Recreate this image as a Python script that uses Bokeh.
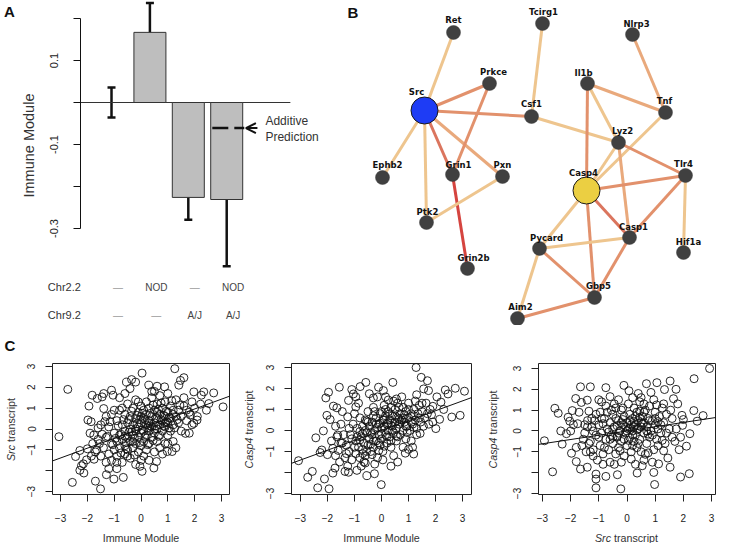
import math
from bokeh.plotting import figure
from bokeh.layouts import column, row
from bokeh.models import (Range1d, LinearAxis, FixedTicker, Whisker, TeeHead, Arrow,
                          OpenHead, Label, ColumnDataSource)
from bokeh.embed import file_html
from bokeh.resources import INLINE
from bokeh.core.properties import value

FONT = "Liberation Sans"
TXT = "#222222"

# ---------------- Panel A data ----------------
A_VALUES = [0.0, 0.167, -0.226, -0.231]
A_UPPER = [0.036, 0.237, -0.179, -0.071]
A_LOWER = [-0.036, 0.098, -0.279, -0.390]
A_CHR22 = ["—", "NOD", "—", "NOD"]
A_CHR92 = ["—", "—", "A/J", "A/J"]
A_ROWS = ["Chr2.2", "Chr9.2"]
A_ADDITIVE = -0.061
A_TICKS = [-0.3, -0.2, -0.1, 0.0, 0.1, 0.2]
A_TICK_LABELS = ["-0.3", "", "-0.1", "", "0.1", ""]

# ---------------- Panel B data ----------------
NODES = ["Ret", "Tcirg1", "Nlrp3", "Prkce", "Il1b", "Src", "Csf1", "Tnf", "Lyz2", "Ephb2",
         "Grin1", "Pxn", "Casp4", "Tlr4", "Ptk2", "Casp1", "Hif1a", "Pycard", "Grin2b", "Gbp5", "Aim2"]
NODE_X = [453, 542, 632, 489, 587, 424, 531, 665, 618, 382,
          452, 502, 586, 685, 426, 629, 683, 539, 467, 594, 517]
NODE_Y = [32, 23, 34, 83, 83, 110, 116, 112, 142, 177,
          174, 176, 190, 175, 222, 237, 252, 248, 268, 297, 318]
NODE_KIND = [0, 0, 0, 0, 0, 1, 0, 0, 0, 0, 0, 0, 2, 0, 0, 0, 0, 0, 0, 0, 0]
LABEL_DX = [0, 1, 4, 4, -4, -8, 0, -1, 4, 5, 6, 0, -3, -2, 1, 4, 5, 7, 6, 4, 3]
LABEL_DY = [-13, -12, -11, -12, -11, -19, -13, -12, -12, -13, -10, -12, -18, -12, -11, -11, -11, -11, -11, -12, -12]
EDGE_SRC = ["Ret", "Tcirg1", "Nlrp3", "Src", "Src", "Src", "Src", "Src", "Src", "Prkce",
            "Grin1", "Pxn", "Csf1", "Il1b", "Il1b", "Il1b", "Tnf", "Lyz2", "Lyz2", "Lyz2",
            "Casp4", "Casp4", "Casp4", "Casp4", "Tlr4", "Tlr4", "Pycard", "Pycard", "Pycard", "Casp1", "Aim2"]
EDGE_DST = ["Src", "Csf1", "Tnf", "Prkce", "Csf1", "Ephb2", "Ptk2", "Grin1", "Pxn", "Grin1",
            "Grin2b", "Ptk2", "Lyz2", "Tnf", "Lyz2", "Casp4", "Casp4", "Casp4", "Tlr4", "Casp1",
            "Tlr4", "Casp1", "Pycard", "Gbp5", "Casp1", "Hif1a", "Casp1", "Gbp5", "Aim2", "Gbp5", "Gbp5"]
EDGE_LEVEL = [1, 1, 2, 3, 3, 1, 1, 4, 2, 3,
              5, 1, 1, 2, 1, 3, 1, 1, 3, 2,
              3, 4, 1, 3, 3, 1, 1, 3, 1, 3, 3]

# ---------------- Panel C data ----------------
IM1_X = [-3.06, -2.73, -2.56, -2.28, -2.44, -2.28, -2.15, -2.22, -2.13, -2.03, -1.94, -1.98, -1.86, -1.9, -1.76,
         -1.82, -1.63, -1.45, -1.39, -1.1, -1.04, -1.39, -1.7, -1.51, -1.29, -1.01, -0.66, -0.54, -0.35, -0.41,
         -0.2, 0.04, 0.29, 0.6, 0.88, 1.26, 1.41, 1.47, 1.6, 1.97, 2.34, 2.25, 2.71, 3.06, 2.44, 2.22, 2.53,
         0.98, 1.16, 1.66, 1.84, 1.97, 2.09, 0.48, 0.58, 0.04, -0.04,
         -1.65, -1.75, -1.3, -1.55, -1.85, -2.0, -1.6, -1.45, -1.35,
         -1.4, -1.3, -1.2, -1.2, -1.1, -1.1, -1.0, -1.0, -0.9, -0.9, -0.9, -0.8, -0.8, -0.8, -0.7, -0.7, -0.7,
         -0.6, -0.6, -0.6, -0.6, -0.5, -0.5, -0.5, -0.5, -0.4, -0.4, -0.4, -0.4, -0.3, -0.3, -0.3, -0.3,
         -0.2, -0.2, -0.2, -0.2, -0.1, -0.1, -0.1, -0.1, 0.0, 0.0, 0.0, 0.0, 0.0, 0.1, 0.1, 0.1, 0.1,
         0.2, 0.2, 0.2, 0.2, 0.2, 0.3, 0.3, 0.3, 0.3, 0.4, 0.4, 0.4, 0.4, 0.5, 0.5, 0.5, 0.5, 0.6, 0.6, 0.6, 0.6,
         0.7, 0.7, 0.7, 0.7, 0.8, 0.8, 0.8, 0.9, 0.9, 0.9, 0.9, 1.0, 1.0, 1.0, 1.1, 1.1, 1.1, 1.2, 1.2, 1.2,
         1.3, 1.3, 1.4, 1.4, 1.5, 1.5, 1.6, 1.7, 1.8,
         -1.6, -1.5, -1.7, -1.8, -1.3, -1.2, -1.0, -0.9, -0.8, -0.6, -0.2, 0.3, 0.5, 0.8, 1.0, 1.3, 1.6, 1.9,
         2.0, 2.1, -0.05, 0.15, 0.35, -0.35, 0.55, -0.55, 0.65, 0.75, -0.15, 0.25, 0.45, 0.85, -0.45, 1.05,
         -0.75, -0.25, 0.05, 0.95,
         -0.95, -0.85, -0.75, -0.65, -0.55, -0.45, -0.35, -0.25, -0.15, -0.05, 0.05, 0.15, 0.25, 0.35, 0.45,
         0.55, 0.65, 0.75, 0.85, 0.95, 1.05, 1.15, 1.25, 1.35, 1.45, -1.05, -1.15, -1.25, -0.6, -0.3, 0.0, 0.3,
         0.6, 0.9, 1.2, -0.9, -0.5, 0.1, 0.7, 1.0, -1.5, -1.1, -0.7, -0.1, 0.4, 1.7, 1.9, 1.8, -0.2, 0.5]
SRC1_Y = [-0.37, 1.9, -2.56, -1.98, -1.32, -1.03, -1.67, -1.76, -2.11, -1.48, 1.1, 0.43, 0.35, -0.2, -0.29,
          1.62, 1.46, 1.54, 1.7, 1.86, 1.62, 0.98, -2.5, -2.87, -2.19, -2.4, -2.32, 2.25, 2.37, 1.94,
          2.25, 2.68, 2.1, 2.05, 2.02, 2.89, 2.1, 2.33, 2.46, 1.78, 1.78, 1.62, 1.73, 1.06, 0.9, 1.19, 1.22,
          -1.08, -1.08, -0.21, 0.67, 0.27, 0.43, -1.87, -1.56, -2.03, -1.79,
          -1.0, -1.45, -1.6, -0.7, -1.3, -0.95, 0.05, -0.25, 0.35,
          -0.9, -0.4, -1.2, 0.1, -0.7, -1.5, -0.2, -1.0, 0.4, -0.6, -1.3, -0.3, 0.9, -0.9, 0.2, -0.5, -1.6,
          -0.1, 0.7, -0.8, -1.2, 0.3, -0.4, 1.2, -1.0, 0.0, -0.6, 0.6, -1.4, 0.2, -0.3, 1.0, -0.9,
          -0.1, 0.5, -0.7, 1.4, 0.1, -0.4, 0.8, -1.1, 0.3, -0.2, 1.1, -0.8, -1.5, 0.5, -0.1, 0.9, -0.6,
          0.2, 0.7, -0.3, 1.3, -1.0, 0.4, -0.1, 1.0, -0.7, 0.6, 0.1, 1.5, -0.4, 0.3, 0.9, -0.2, -1.1, 0.5, 1.2, 0.0, -0.6,
          0.7, 0.2, 1.6, -0.3, 0.4, 1.0, -0.1, 0.6, 0.1, 1.3, -0.7, 0.8, 0.3, -0.3, 0.5, 1.1, -0.1, 0.2, 0.9, -0.6,
          0.6, 1.4, 0.3, 0.9, 0.6, -0.1, 1.1, 0.4, 0.8,
          -0.5, 0.2, -1.1, -0.7, 0.6, -1.9, 0.9, -1.9, 1.5, 1.7, -1.7, -1.5, 1.8, -1.2, 1.7, -0.9, 1.5, 0.2,
          1.0, 0.6, 0.45, -0.35, 0.75, -0.15, 0.15, -0.65, 0.95, 0.45, 0.25, 0.05, -0.55, 0.65, 0.45, 0.05,
          -0.25, -0.45, -0.05, 0.35,
          -0.45, 0.15, -1.15, 0.45, -0.95, -0.15, 0.85, -1.25, 0.65, -0.65, 0.75, 0.45, -0.75, 0.15, 1.15,
          0.55, -0.35, 1.25, 0.15, 0.85, 0.55, 1.35, 0.05, 0.45, 1.15, -0.75, 0.35, -0.35, -0.35, -0.6, 0.6, 0.3,
          0.8, 0.3, 0.7, -1.6, -1.3, -1.3, -0.9, -0.7, -1.3, 0.7, 1.0, 1.3, 1.8, 0.9, 1.3, -0.2, 0.0, 0.0]

IM2_X = [-3.07, -2.73, -2.56, -2.36, -2.27, -2.21, -2.43, -2.15, -2.06, -1.96, -2.02, -1.9, -1.94, -2.11, -1.8,
         -1.72, -1.78, -1.65, -1.56, -1.62, -1.1, -1.04, -1.22, -0.79, -0.58, -0.95, -1.35, -1.22, -0.91, -0.54,
         -0.26, -0.01, -0.11, 0.07, 0.42, 1.28, 1.47, 1.7, 1.56, 1.74, 2.36, 2.73, 3.07, 2.46, 2.91, 2.6, 2.01,
         2.15, 1.43, 1.15, 1.19, 0.88,
         -1.8, -1.7, -1.55, -1.45, -1.5, -1.35, -1.25, -1.85, -2.0, -1.6, 2.2, 2.05, 1.9, 2.3, 1.85, -0.3, -0.45,
         -0.15, 0.25, 0.45, 0.6, 0.35, -0.6, -0.75,
         -1.3, -1.2, -1.15, -1.1, -1.05, -0.95, -0.95, -0.9, -0.85, -0.8, -0.8, -0.75, -0.7, -0.7, -0.65, -0.6,
         -0.6, -0.55, -0.5, -0.5, -0.45, -0.45, -0.4, -0.35, -0.35, -0.3, -0.3, -0.25, -0.2, -0.2, -0.15, -0.1,
         -0.1, -0.05, -0.05, 0.0, 0.0, 0.05, 0.05, 0.1, 0.1, 0.15, 0.15, 0.2, 0.2, 0.25, 0.25, 0.3, 0.3, 0.35,
         0.35, 0.4, 0.4, 0.45, 0.5, 0.5, 0.55, 0.55, 0.6, 0.6, 0.65, 0.7, 0.7, 0.75, 0.8, 0.8, 0.85, 0.9, 0.9,
         0.95, 1.0, 1.0, 1.05, 1.1, 1.15, 1.2, 1.25, 1.3, 1.35, 1.4, 1.45, 1.5, 1.6, 1.65, 1.75, 1.8,
         -1.4, -1.25, -1.0, -0.85, -0.65, -0.25, 0.15, 0.45, 0.75, 1.1, 1.3, -0.55, -0.15, 0.35, 0.65, -0.4,
         0.1, -0.7, 0.85, 0.25, -0.3, 0.55, -0.1, 1.2, -0.8, 0.0,
         -0.9, -0.8, -0.7, -0.6, -0.5, -0.4, -0.3, -0.2, -0.1, 0.0, 0.1, 0.2, 0.3, 0.4, 0.5, 0.6, 0.7, 0.8, 0.9,
         1.0, 1.1, 1.2, 1.3, 1.4, 1.5, -1.0, -1.1, -1.2, -1.3, -1.5, -0.55, -0.25, 0.05, 0.35, 0.65, 0.95, 1.25,
         1.55, 1.7, 1.9, -1.65, -1.7, -1.45, -0.95, 0.15, 0.55, 0.8, 1.0, -0.35, -0.05]
CASP4_2Y = [-1.44, -2.23, -1.95, -2.73, -1.05, -0.93, -0.35, -0.02, 1.55, 1.82, 0.72, 0.52, -2.78, -2.31, -2.03,
            -1.79, 1.16, 1.08, 2.06, -0.22, 1.95, 1.74, 1.43, 2.09, 2.29, 1.12, -1.95, -1.99, -1.9, -2.15,
            -2.06, -2.58, 2.06, 1.9, 2.29, 3.0, 2.53, 2.37, 1.98, 1.9, 1.93, 2.01, 1.87, 1.74, 0.72, 0.64, 0.09,
            0.53, -0.14, -0.8, -1.12, -1.08,
            -0.85, -1.2, -1.5, -0.6, 0.3, -1.3, 0.65, -0.5, -1.15, -0.95, 1.35, 1.6, 1.15, 1.0, 0.75, 1.55, 1.75,
            1.6, 1.45, 1.4, -1.5, -1.7, -1.55, -1.7,
            -0.7, -1.0, -0.2, -1.4, 0.3, -0.5, -1.1, 0.1, -0.8, 0.6, -1.3, -0.3, 0.2, -0.9, -0.6, 0.5,
            -1.2, -0.1, 0.9, -0.7, 0.2, -0.4, -1.0, 0.4, -0.2, 1.1, -0.8, 0.0, 0.6, -0.5, -1.3, 0.3,
            -0.2, 0.8, -0.7, 0.1, -0.4, 0.5, -1.0, 0.2, 1.2, -0.2, 0.7, -0.6, 0.3, 0.0, 0.9, -0.3, 0.5, 1.1,
            -0.8, 0.2, 0.7, -0.1, 0.4, 1.0, -0.5, 0.1, 0.6, 1.3, 0.3, -0.2, 0.8, 0.5, 1.1, 0.0, 0.4, 0.9, -0.4,
            0.2, 0.6, 1.3, 0.0, 0.8, 0.3, 1.0, 0.5, -0.2, 0.8, 1.2, 0.4, 0.9, 0.6, 1.3, 0.3, 1.0,
            -0.2, -1.7, 0.8, 1.3, -1.5, -1.6, 1.6, -1.2, 1.6, -0.5, 1.7, 0.45, 0.15, 0.25, 0.55, -0.65,
            -0.75, -0.15, 0.75, 0.35, 0.7, -0.25, -0.95, 0.15, -0.45, 0.9,
            -0.3, -0.05, -1.1, 0.0, 0.4, -0.1, -0.5, 0.3, -0.6, -0.15, 0.5, -0.3, 0.8, 0.0, 0.7, -0.3, 0.4, 0.6,
            0.2, 1.0, 0.4, 0.7, 0.1, 0.6, 1.3, -0.8, -0.4, 0.1, -1.1, -0.6, -1.0, 0.9, -1.4, -0.5, 1.1, -0.1, 1.4,
            0.2, 0.8, 0.4, -0.3, 0.2, 0.9, 1.6, 1.0, 1.5, -0.8, -0.9, -1.15, 0.35]

SRC3_X = [-2.93, -2.64, -2.56, -2.44, -2.35, -2.3, -2.09, -1.94, -2.03, -2.0, -2.15, -1.97, -1.8, -1.82, -1.65,
          -1.3, -1.62, -1.41, -1.8, -1.65, -1.41, -1.1, -1.1, -1.1, -0.75, -0.34, -0.22, -0.75, -0.11, 0.07,
          0.69, 1.06, 1.53, 1.74, 1.33, 2.38, 2.93, 2.37, 2.7, 2.49, 1.97, 2.23, 2.11, 1.9, 2.21, 1.53, 0.98,
          0.95, 1.12, 0.54, 0.36, 0.65,
          -1.75, -1.5, -1.55, -1.35, -1.2, -1.45, -1.25, 1.8, 1.65, 1.95, 1.7, 1.85, 2.0, 1.45, 1.3, -1.0, -0.6,
          0.4, 0.5, 0.85, -0.45,
          -1.3, -1.25, -1.2, -1.15, -1.1, -1.05, -1.0, -0.95, -0.95, -0.9, -0.85, -0.8, -0.75, -0.75, -0.7,
          -0.65, -0.6, -0.6, -0.55, -0.5, -0.5, -0.45, -0.4, -0.4, -0.35, -0.3, -0.3, -0.25, -0.2, -0.2, -0.15,
          -0.1, -0.1, -0.05, 0.0, 0.0, 0.05, 0.05, 0.1, 0.1, 0.15, 0.15, 0.2, 0.2, 0.25, 0.25, 0.3, 0.3, 0.35,
          0.35, 0.4, 0.4, 0.45, 0.45, 0.5, 0.5, 0.55, 0.6, 0.6, 0.65, 0.7, 0.7, 0.75, 0.8, 0.8, 0.85, 0.9, 0.95,
          1.0, 1.0, 1.05, 1.1, 1.15, 1.2, 1.25, 1.3, 1.35, 1.4, 1.5, 1.55, 1.6,
          -1.5, -1.4, -1.35, -0.9, -0.3, 0.2, 0.95, -0.2, 0.6, -0.65, 0.35, -0.15, 0.55, 0.1, -0.35, 0.25, 0.05,
          0.75, -0.5, 0.45, -0.05, 0.2, -0.85, 1.1,
          -1.0, -0.9, -0.8, -0.7, -0.6, -0.5, -0.4, -0.3, -0.2, -0.1, 0.0, 0.1, 0.2, 0.3, 0.4, 0.5, 0.6, 0.7, 0.8,
          0.9, 1.0, 1.1, 1.2, 1.3, 1.4, -1.2, -1.1, -1.3, -1.4, -1.6, -1.7, -0.55, -0.25, 0.15, 0.45, 0.75, 1.05,
          1.6, 1.75, 1.9, -0.85, -0.45, 0.3, 0.9, -1.9, -0.15, 0.6, 1.25, -0.35, 0.25]
CASP4_3Y = [-0.47, -1.96, 1.09, 0.85, 0.0, -0.63, 0.66, 0.98, 0.47, 0.0, -0.13, -1.07, -0.79, 1.56, 2.12,
            2.12, 1.37, 1.48, -1.47, -1.83, -1.74, -2.07, -2.31, -2.73, -2.18, -2.1, -2.78, 2.08, 2.19, 1.93,
            2.27, 2.32, 2.4, 2.0, 1.99, 2.51, 3.0, 0.98, 0.74, 0.47, 0.27, -0.13, -0.73, -2.21, -2.05, -1.74, -2.57,
            -1.99, -1.58, -1.67, -2.02, -1.12,
            0.35, 0.3, -0.4, 0.95, -1.2, -1.0, 0.6, 1.3, 1.55, 0.75, -0.5, -0.9, 0.55, -1.3, -0.95, 1.5, 1.65,
            1.8, 1.6, 1.85, 1.3,
            -0.5, 0.2, -0.9, 0.5, -0.2, -1.4, 0.3, -0.7, 0.9, -0.1, -1.1, 0.6, -0.4, 1.2, 0.1,
            -0.9, 0.4, -1.5, -0.2, 0.8, -0.6, 0.2, -1.1, 1.1, -0.3, 0.5, -0.8, 0.0, 1.0, -0.5, 0.3,
            -1.2, 0.7, -0.1, 0.4, -0.7, 1.3, 0.1, -0.3, 0.8, 0.3, -1.0, 0.0, 0.6, -0.5, 1.1, 0.3, -0.2, 0.9,
            -0.8, 0.1, 0.5, -0.4, 1.4, 0.2, -1.0, 0.7, -0.1, 0.4, 1.0, -0.6, 0.2, 0.6, -0.3, 1.2, 0.0, 0.5, -0.9,
            0.3, 0.9, -0.4, 0.1, 0.7, -0.1, 1.1, 0.4, -0.6, 0.8, 0.1, 1.0, -0.3,
            -0.1, 0.5, -0.6, 1.4, 1.5, 1.6, 1.5, -1.5, -1.4, -0.05, 0.05, 0.55, 0.35, 0.15, 0.25, 0.45, -0.45,
            -0.15, -0.3, 0.65, 0.2, -0.7, 0.35, 0.45,
            -0.3, 0.6, -0.8, 0.9, -0.4, 0.1, 0.6, -0.1, 0.4, -0.4, 0.0, 0.5, -0.2, 0.7, -0.6, 0.4, 0.9, 0.0, 0.5,
            -0.2, 0.6, -0.7, 0.3, 1.3, -0.1, 0.0, 0.8, -1.0, 0.2, -0.7, 0.9, 1.0, -0.95, -1.35, 0.95, -1.05, 1.25,
            0.6, 0.1, -0.3, -1.6, -1.6, -1.6, -1.5, 0.3, 1.1, 1.3, -0.45, -0.25, 0.2]

C_TICKS = [-3, -2, -1, 0, 1, 2, 3]
C_TICK_OVERRIDES = {-2: ""}
C_FITS = [(0.47, 0.02), (0.47, 0.0), (0.205, 0.0)]
C_BOX_X = [(-3.30, 3.30), (-3.33, 3.33), (-3.14, 3.14)]
C_BOX_Y = [(-3.14, 3.14), (-3.05, 3.19), (-3.05, 3.24)]

# ---------------- layout sizes ----------------
TOP_H = 325
BOT_H = 218


def no_grid(p):
    p.xgrid.visible = False
    p.ygrid.visible = False
    p.outline_line_color = None


# ================= Panel A =================
bar_x = [0.7 + 1.2 * i for i in range(len(A_VALUES))]
pA = figure(width=340, height=TOP_H, x_range=Range1d(-2.769, 7.856), y_range=Range1d(-0.531, 0.2429),
            x_axis_location=None, y_axis_location=None, toolbar_location=None, output_backend="svg",
            min_border=0)
no_grid(pA)

axA = LinearAxis(fixed_location=-0.269, ticker=FixedTicker(ticks=A_TICKS), bounds=(-0.3, 0.2),
                 major_label_overrides={t: l for t, l in zip(A_TICKS, A_TICK_LABELS)},
                 major_label_orientation="vertical", major_tick_out=7, major_tick_in=0,
                 minor_tick_out=0, minor_tick_in=0, major_label_standoff=15,
                 major_label_text_font=FONT, major_label_text_font_size="11px",
                 major_label_text_color=TXT, axis_line_color="#111111", major_tick_line_color="#111111")
pA.add_layout(axA, "left")

pA.segment(x0=-0.269, y0=0, x1=6.29, y1=0, line_color="#333333", line_width=1)
srcA = ColumnDataSource(dict(x=bar_x, top=A_VALUES, upper=A_UPPER, lower=A_LOWER))
pA.vbar(x="x", top="top", bottom=0, width=1.0, source=srcA, fill_color="#BEBEBE",
        line_color="#333333", line_width=1)
pA.add_layout(Whisker(base="x", upper="upper", lower="lower", source=srcA, dimension="height",
                      line_width=2.5, line_color="#111111",
                      upper_head=TeeHead(size=8, line_width=2.5, line_color="#111111"),
                      lower_head=TeeHead(size=8, line_width=2.5, line_color="#111111")))
b4 = bar_x[-1]
pA.segment(x0=b4 - 0.45, y0=A_ADDITIVE, x1=b4 + 0.55, y1=A_ADDITIVE, line_color="#111111",
           line_width=2.5, line_dash="16 6")
pA.add_layout(Arrow(end=OpenHead(size=10, line_width=2, line_color="#111111"),
                    x_start=b4 + 0.96, y_start=A_ADDITIVE, x_end=b4 + 0.6, y_end=A_ADDITIVE,
                    line_width=2, line_color="#111111"))
pA.add_layout(Label(x=b4 + 1.21, y=A_ADDITIVE + 0.016, text="Additive", text_font=FONT,
                    text_font_size="12px", text_color="#333333", text_baseline="middle"))
pA.add_layout(Label(x=b4 + 1.21, y=A_ADDITIVE - 0.022, text="Prediction", text_font=FONT,
                    text_font_size="12px", text_color="#333333", text_baseline="middle"))
pA.add_layout(Label(x=-1.894, y=-0.1024, text="Immune Module", angle=math.pi / 2, text_align="center",
                    text_baseline="middle", text_font=FONT, text_font_size="14.5px", text_color="#333333"))
row_y = [-0.4405, -0.507]
for name, yy, vals in zip(A_ROWS, row_y, [A_CHR22, A_CHR92]):
    pA.add_layout(Label(x=-1.29, y=yy, text=name, text_font=FONT, text_font_size="11px",
                        text_color="#333333", text_baseline="middle"))
    for bx, v in zip(bar_x, vals):
        pA.add_layout(Label(x=bx + 0.2, y=yy, text=v, text_font=FONT, text_font_size="10px",
                            text_color="#444444" if v != "—" else "#999999",
                            text_align="center", text_baseline="middle"))
pA.add_layout(Label(x=-2.66, y=0.236, text="A", text_font=FONT, text_font_size="15px",
                    text_font_style="bold", text_color="#111111", text_baseline="top"))

# ================= Panel B =================
pB = figure(width=377, height=TOP_H, x_range=Range1d(340, 717), y_range=Range1d(325, 0),
            x_axis_location=None, y_axis_location=None, toolbar_location=None, output_backend="svg",
            min_border=0)
no_grid(pB)
pos = {n: (x, y) for n, x, y in zip(NODES, NODE_X, NODE_Y)}
EDGE_COLORS = {1: "#EEC58E", 2: "#E9A97C", 3: "#E2916C", 4: "#DB755E", 5: "#D5443F"}
pB.segment(x0=[pos[a][0] for a in EDGE_SRC], y0=[pos[a][1] for a in EDGE_SRC],
           x1=[pos[b][0] for b in EDGE_DST], y1=[pos[b][1] for b in EDGE_DST],
           line_color=[EDGE_COLORS[l] for l in EDGE_LEVEL], line_width=3)
small = [i for i, k in enumerate(NODE_KIND) if k == 0]
pB.scatter([NODE_X[i] for i in small], [NODE_Y[i] for i in small], size=14, fill_color="#404040",
           line_color="#3a3a3a", line_width=0.5)
big_col = {1: "#1E3CF5", 2: "#EBCF42"}
big = [i for i, k in enumerate(NODE_KIND) if k != 0]
pB.scatter([NODE_X[i] for i in big], [NODE_Y[i] for i in big], size=27,
           fill_color=[big_col[NODE_KIND[i]] for i in big], line_color="#1a1a1a", line_width=1)
pB.text(x=NODE_X, y=NODE_Y, text=NODES, x_offset=LABEL_DX, y_offset=LABEL_DY,
        text_font=value("DejaVu Sans"), text_font_style="bold", text_font_size="8.5px",
        text_color="#111111", text_align="center", text_baseline="middle")
pB.add_layout(Label(x=347, y=3, text="B", text_font=FONT, text_font_size="15px",
                    text_font_style="bold", text_color="#111111", text_baseline="top"))


# ================= Panel C =================
def scatter_panel(w, box_px, box_x, box_y, xs, ys, fit, xlabel, ylabel, ylab_off, letter=None):
    pt, pb = 38, 169                     # box top / bottom in pixels from figure top
    pl, pr = box_px
    ux = (box_x[1] - box_x[0]) / (pr - pl)
    uy = (box_y[1] - box_y[0]) / (pb - pt)
    xr = (box_x[0] - pl * ux, box_x[0] + (w - pl) * ux)
    yr = (box_y[1] - (BOT_H - pt) * uy, box_y[1] + pt * uy)
    p = figure(width=w, height=BOT_H, x_range=Range1d(*xr), y_range=Range1d(*yr),
               x_axis_location=None, y_axis_location=None, toolbar_location=None,
               output_backend="svg", min_border=0)
    no_grid(p)
    p.quad(left=box_x[0], right=box_x[1], bottom=box_y[0], top=box_y[1], fill_color=None,
           line_color="#222222", line_width=1)
    common = dict(ticker=FixedTicker(ticks=C_TICKS), major_tick_out=7, major_tick_in=0,
                  minor_tick_out=0, minor_tick_in=0, axis_line_color=None,
                  major_tick_line_color="#222222", major_label_text_font=FONT,
                  major_label_text_font_size="10px", major_label_text_color=TXT)
    p.add_layout(LinearAxis(fixed_location=box_y[0], major_label_standoff=12, **common), "below")
    p.add_layout(LinearAxis(fixed_location=box_x[0], major_label_standoff=10,
                            major_label_orientation="vertical",
                            major_label_overrides=C_TICK_OVERRIDES, **common), "left")
    p.scatter(xs, ys, size=8, marker="circle", fill_color=None, line_color="#111111", line_width=0.9)
    p.segment(x0=box_x[0], y0=fit[1] + fit[0] * box_x[0], x1=box_x[1], y1=fit[1] + fit[0] * box_x[1],
              line_color="#111111", line_width=1)

    # estimated rendered widths (px) of the label pieces, used to join italic + roman parts
    est = {"Src": 16.0, "Casp4": 31.0, "transcript": 45.0, "Immune Module": 77.0}
    gap = 3.0

    def mixed(parts, horizontal):
        multi = len(parts) > 1
        ws = [est[t] for t, _ in parts]
        total = sum(ws) + (gap if multi else 0)
        for k, (t, it) in enumerate(parts):
            if multi:
                if k == 0:
                    off, align = -total / 2 + ws[0], "right"
                else:
                    off, align = -total / 2 + ws[0] + gap, "left"
            else:
                off, align = 0.0, "center"
            if horizontal:
                xx = (box_x[0] + box_x[1]) / 2 + off * ux
                yy = box_y[0] - 43 * uy
                ang = 0
            else:
                xx = box_x[0] - ylab_off * ux
                yy = (box_y[0] + box_y[1]) / 2 + off * uy
                ang = math.pi / 2
            p.add_layout(Label(x=xx, y=yy, text=t, angle=ang, text_align=align, text_baseline="middle",
                               text_font=FONT, text_font_size="10.7px",
                               text_font_style="italic" if it else "normal", text_color="#333333"))

    mixed(xlabel, True)
    mixed(ylabel, False)
    if letter:
        p.add_layout(Label(x=xr[0] + 4 * ux, y=yr[1] - 20 * uy, text=letter, text_font=FONT,
                           text_font_size="15px", text_font_style="bold", text_color="#111111",
                           text_baseline="middle"))
    return p


p1 = scatter_panel(240, (52, 229), C_BOX_X[0], C_BOX_Y[0], IM1_X, SRC1_Y, C_FITS[0],
                   [("Immune Module", False)], [("Src", True), ("transcript", False)], 42, "C")
p2 = scatter_panel(246, (51, 231), C_BOX_X[1], C_BOX_Y[1], IM2_X, CASP4_2Y, C_FITS[1],
                   [("Immune Module", False)], [("Casp4", True), ("transcript", False)], 43)
p3 = scatter_panel(231, (52, 229), C_BOX_X[2], C_BOX_Y[2], SRC3_X, CASP4_3Y, C_FITS[2],
                   [("Src", True), ("transcript", False)], [("Casp4", True), ("transcript", False)], 46)

layout = column(row(pA, pB, spacing=0), row(p1, p2, p3, spacing=0), spacing=0)
open("out.html", "w").write(file_html(layout, INLINE))
